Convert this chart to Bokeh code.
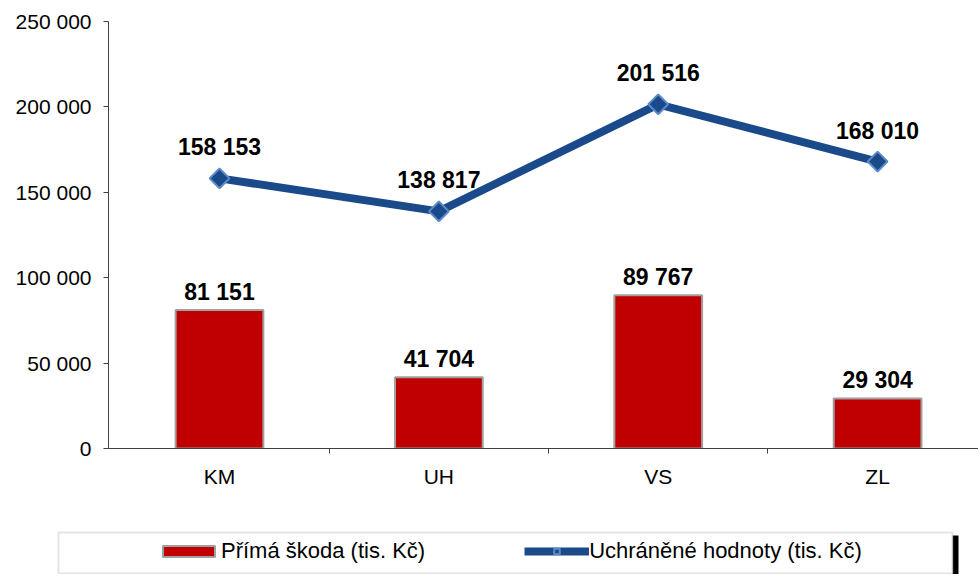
from bokeh.plotting import figure
from bokeh.layouts import column
from bokeh.models import (Range1d, FixedTicker, Legend, LegendItem, BoxAnnotation,
                          ColumnDataSource)
from bokeh.embed import file_html
from bokeh.resources import INLINE
from bokeh.core.properties import value
import numpy as np

# ---- data ----
categories = ["KM", "UH", "VS", "ZL"]
prima_skoda = [81151, 41704, 89767, 29304]
uchranene = [158153, 138817, 201516, 168010]
y_ticks = [0, 50000, 100000, 150000, 200000, 250000]
y_tick_labels = ["0", "50 000", "100 000", "150 000", "200 000", "250 000"]
series_names = ["Přímá škoda (tis. Kč)", "Uchráněné hodnoty (tis. Kč)"]


def fmt(v):
    return f"{v:,}".replace(",", " ")


xs = list(range(len(categories)))
src = ColumnDataSource(dict(
    x=xs, bar=prima_skoda, line=uchranene,
    bar_lbl=[fmt(v) for v in prima_skoda],
    line_lbl=[fmt(v) for v in uchranene],
))

FONT = "Liberation Sans"
BLUE = "#1A4A8A"
RED = "#C00000"
BAR_LINE = "#A0A0A0"
MARK_LINE = "#5B8BC9"
W = 978

p = figure(width=W, height=500, output_backend="svg", toolbar_location=None,
           title=None, x_range=Range1d(-0.506, 3.46), y_range=Range1d(0, 250000),
           min_border_left=108, min_border_right=0, min_border_top=21,
           min_border_bottom=52)
p.frame_align = False
p.outline_line_color = None
p.grid.visible = False
p.background_fill_color = "white"
p.border_fill_color = "white"

bar_style = dict(fill_color=RED, line_color=BAR_LINE, line_width=2)
line_style = dict(line_color=BLUE, line_width=8)
mark_style = dict(marker="square", angle=np.pi / 4, size=14, fill_color=BLUE,
                  line_color=MARK_LINE, line_width=2)

p.vbar(x="x", top="bar", width=0.40, source=src, **bar_style)
p.line(x="x", y="line", source=src, **line_style)
p.scatter(x="x", y="line", source=src, **mark_style)

p.text(x="x", y="bar", text="bar_lbl", source=src, text_align="center",
       text_baseline="bottom", y_offset=-5, text_font=value(FONT),
       text_font_size="23px", text_font_style="bold", text_color="black")
p.text(x="x", y="line", text="line_lbl", source=src, text_align="center",
       text_baseline="bottom", y_offset=-18, text_font=value(FONT),
       text_font_size="23px", text_font_style="bold", text_color="black")

# y axis
ya = p.yaxis[0]
ya.ticker = FixedTicker(ticks=y_ticks)
ya.major_label_overrides = {t: l for t, l in zip(y_ticks, y_tick_labels)}
ya.axis_line_color = "#404040"
ya.major_tick_line_color = "#404040"
ya.major_tick_out = 5
ya.major_tick_in = 0
ya.minor_tick_line_color = None
ya.major_label_standoff = 12
ya.major_label_text_font = FONT
ya.major_label_text_font_size = "21px"
ya.major_label_text_color = "black"

# x axis
xa = p.xaxis[0]
xa.ticker = FixedTicker(ticks=xs, minor_ticks=[i + 0.5 for i in xs[:-1]])
xa.major_label_overrides = {i: c for i, c in zip(xs, categories)}
xa.axis_line_color = "#404040"
xa.major_tick_line_color = None
xa.major_tick_out = 0
xa.major_tick_in = 0
xa.minor_tick_line_color = "#404040"
xa.minor_tick_out = 5
xa.minor_tick_in = 0
xa.major_label_standoff = 11
xa.major_label_text_font = FONT
xa.major_label_text_font_size = "21px"
xa.major_label_text_color = "black"

# ---- legend strip (same series, kept out of its visible range) ----
LH = 74
p2 = figure(width=W, height=LH, output_backend="svg", toolbar_location=None,
            title=None, x_range=Range1d(-3000, -3000 + W),
            y_range=Range1d(1_000_000, 1_000_000 + LH),
            x_axis_location=None, y_axis_location=None, min_border=0)
p2.frame_align = False
p2.outline_line_color = None
p2.grid.visible = False
p2.border_fill_color = "white"
p2.background_fill_color = "white"

lb = p2.vbar(x="x", top="bar", width=0.4, source=src, **bar_style)
ll = p2.line(x="x", y="line", source=src, **line_style)
lm = p2.scatter(x="x", y="line", source=src, **mark_style)

scr = dict(left_units="screen", right_units="screen", top_units="screen",
           bottom_units="screen")
shadow = BoxAnnotation(left=952, right=958, top=39, bottom=0, fill_color="black",
                       fill_alpha=1.0, line_color=None, **scr)
box = BoxAnnotation(left=58, right=952, top=42, bottom=1, fill_color="white",
                    fill_alpha=1.0, line_color="#A6A6A6", line_width=2, **scr)
p2.add_layout(shadow)
p2.add_layout(box)

legend = Legend(items=[LegendItem(label=series_names[0], renderers=[lb]),
                       LegendItem(label=series_names[1], renderers=[ll, lm])],
                orientation="horizontal", location=(156, 10), padding=0,
                margin=0, spacing=99, glyph_width=65, glyph_height=14,
                label_standoff=0, label_height=23, label_text_font=FONT,
                label_text_font_size="22px", label_text_color="black",
                border_line_alpha=0, background_fill_alpha=0)
p2.add_layout(legend)

layout = column(p, p2, spacing=0)
open("out.html", "w").write(file_html(layout, INLINE))
